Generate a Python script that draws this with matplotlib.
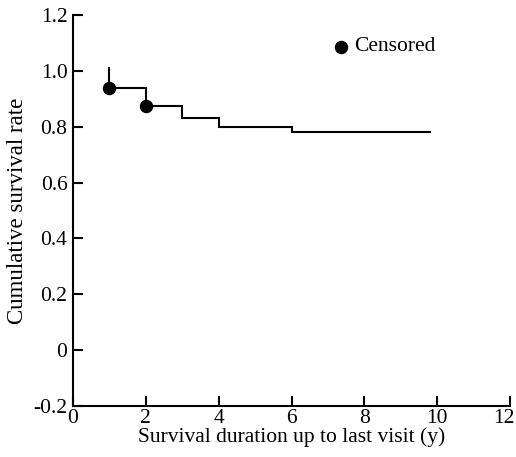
import matplotlib
matplotlib.use("Agg")
import matplotlib.pyplot as plt
from matplotlib.transforms import ScaledTranslation

plt.rcParams["font.family"] = ["Liberation Serif", "DejaVu Serif"]

# Kaplan-Meier style step data
step_x = [1.0, 2.0, 3.0, 4.0, 6.0, 9.8]
step_y = [0.94, 0.876, 0.832, 0.80, 0.782, 0.782]
start_top = 1.01

censored_x = [1.0, 2.0]
censored_y = [0.94, 0.876]

x_ticks = [0, 2, 4, 6, 8, 10, 12]
y_ticks = [-0.2, 0, 0.2, 0.4, 0.6, 0.8, 1.0, 1.2]
y_tick_labels = ["-0.2", "0", "0.2", "0.4", "0.6", "0.8", "1.0", "1.2"]

fig = plt.figure(figsize=(5.16, 4.57), dpi=100)
ax = fig.add_axes([0.1415, 0.112, 0.847, 0.855])

# step curve: vertical drop at start, then post-steps
xs = [step_x[0]]
ys = [start_top]
for i in range(len(step_x)):
    xs.append(step_x[i])
    ys.append(step_y[i])
    if i + 1 < len(step_x):
        xs.append(step_x[i + 1])
        ys.append(step_y[i])
ax.plot(xs, ys, color="black", linewidth=1.5, solid_joinstyle="miter")

ax.scatter(censored_x, censored_y, s=75, color="black", zorder=3)

# legend entry
ax.scatter([7.36], [1.087], s=75, color="black", clip_on=False)
ax.text(7.72, 1.087, "Censored", fontsize=15.5, va="center", ha="left")

ax.set_xlim(0, 12)
ax.set_ylim(-0.2, 1.2)
ax.set_xticks(x_ticks)
ax.set_xticklabels([str(t) for t in x_ticks])
ax.set_yticks(y_ticks)
ax.set_yticklabels(y_tick_labels)
ax.tick_params(direction="in", length=7, width=1.5, labelsize=15.5, colors="black")
ax.tick_params(axis="x", pad=2)
ax.tick_params(axis="y", pad=4)

# keep the last x label inside the figure
last = ax.get_xticklabels()[-1]
last.set_transform(last.get_transform() + ScaledTranslation(-6 / 100, 0, fig.dpi_scale_trans))

for s in ["top", "right"]:
    ax.spines[s].set_visible(False)
for s in ["left", "bottom"]:
    ax.spines[s].set_linewidth(1.5)

ax.set_xlabel("Survival duration up to last visit (y)", fontsize=15.5, labelpad=0)
ax.set_ylabel("Cumulative survival rate", fontsize=16.5, labelpad=4)

fig.savefig("out.png", dpi=100)
